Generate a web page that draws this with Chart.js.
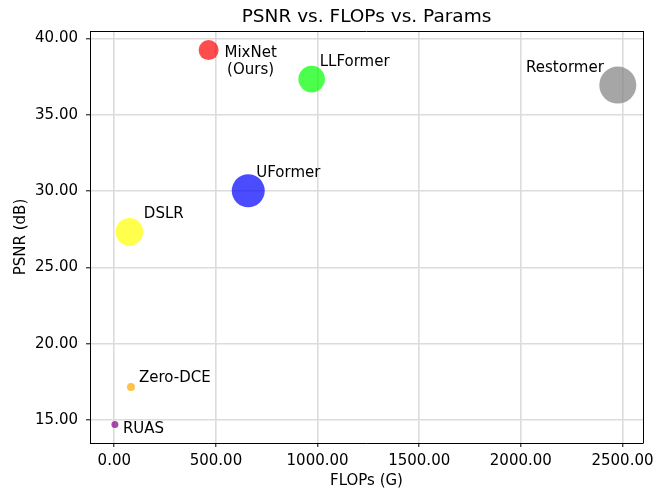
<!DOCTYPE html>
<html>
<head>
<meta charset="utf-8">
<script src="https://cdn.jsdelivr.net/npm/chart.js@4.4.0/dist/chart.umd.min.js"></script>
<style>
  body { margin: 0; background: #fff; }
  #wrap { width: 666px; height: 493px; }
</style>
</head>
<body>
<div id="wrap"><canvas id="bubbleChart" width="666" height="493"></canvas></div>
<script>
// values
const models = ['MixNet\n(Ours)', 'LLFormer', 'Restormer', 'UFormer', 'DSLR', 'Zero-DCE', 'RUAS'];
const flops = [464, 971, 2477, 659, 74, 82, 3];
const psnr = [39.23, 37.33, 36.94, 30.02, 27.33, 17.18, 14.72];
const paramSize = [10, 13.3, 18.5, 16.5, 13.8, 4, 3.5];
const xTicks = [0, 500, 1000, 1500, 2000, 2500];
const yTicks = [15, 20, 25, 30, 35, 40];

const colors = ['rgba(255,0,0,0.7)', 'rgba(0,255,0,0.7)', 'rgba(128,128,128,0.7)',
  'rgba(0,0,255,0.7)', 'rgba(255,255,0,0.7)', 'rgba(255,165,0,0.7)', 'rgba(128,0,128,0.7)'];
// label offset from bubble centre in px: [dx, dy(baseline), align]
const labelOffsets = [[42, 6.5, 'center'], [8, -13.5, 'left'], [-14, -13.5, 'right'],
  [8, -14, 'left'], [14.5, -13.7, 'left'], [8, -5, 'left'], [8, 8, 'left']];

const FONT = 'DejaVu Sans';

const pointLabels = {
  id: 'pointLabels',
  afterDraw(chart) {
    const ctx = chart.ctx;
    const xs = chart.scales.x, ys = chart.scales.y;
    const area = chart.chartArea;
    ctx.save();
    // top and right spines
    ctx.strokeStyle = '#000';
    ctx.lineWidth = 1;
    ctx.beginPath();
    ctx.moveTo(area.left, Math.round(area.top) + 0.5);
    ctx.lineTo(area.right, Math.round(area.top) + 0.5);
    ctx.moveTo(Math.round(area.right) + 0.5, area.top);
    ctx.lineTo(Math.round(area.right) + 0.5, area.bottom);
    ctx.stroke();

    ctx.fillStyle = '#000';
    ctx.font = '15px "' + FONT + '"';
    ctx.textBaseline = 'alphabetic';
    models.forEach((name, i) => {
      const px = xs.getPixelForValue(flops[i]);
      const py = ys.getPixelForValue(psnr[i]);
      const [dx, dy, align] = labelOffsets[i];
      ctx.textAlign = align;
      name.split('\n').forEach((line, k) => {
        ctx.fillText(line, px + dx, py + dy + k * 17);
      });
    });
    ctx.restore();
  }
};

document.addEventListener('DOMContentLoaded', function () {
  const ctx = document.getElementById('bubbleChart').getContext('2d');
  new Chart(ctx, {
    type: 'bubble',
    data: {
      datasets: [{
        data: models.map((m, i) => ({ x: flops[i], y: psnr[i], r: paramSize[i] })),
        backgroundColor: colors,
        borderWidth: 0,
        hoverRadius: 0
      }]
    },
    options: {
      responsive: false,
      animation: false,
      layout: { padding: { left: 0, right: 23, top: 0, bottom: 0 } },
      plugins: {
        legend: { display: false },
        tooltip: { enabled: false },
        title: {
          display: true,
          text: 'PSNR vs. FLOPs vs. Params',
          fullSize: false,
          color: '#000',
          font: { family: FONT, size: 18.5, weight: 'normal' },
          padding: { top: 6, bottom: 2.8 }
        }
      },
      scales: {
        x: {
          type: 'linear',
          min: -119.5,
          max: 2601,
          z: 1,
          afterBuildTicks: axis => { axis.ticks = xTicks.map(v => ({ value: v })); },
          afterFit: axis => { axis.height = 50; },
          grid: {
            color: '#dcdcdc',
            lineWidth: 1.6,
            tickColor: '#000',
            tickLength: 4,
            tickWidth: 1
          },
          border: { color: '#000', width: 1 },
          ticks: {
            autoSkip: false,
            maxRotation: 0,
            padding: 5,
            color: '#000',
            font: { family: FONT, size: 15 },
            callback: v => v.toFixed(2)
          },
          title: {
            display: true,
            text: 'FLOPs (G)',
            color: '#000',
            font: { family: FONT, size: 15 },
            padding: { top: 0, bottom: 3 }
          }
        },
        y: {
          type: 'linear',
          min: 13.51,
          max: 40.48,
          z: 1,
          afterBuildTicks: axis => { axis.ticks = yTicks.map(v => ({ value: v })); },
          afterFit: axis => { axis.width = 90; },
          grid: {
            color: '#dcdcdc',
            lineWidth: 1.6,
            tickColor: '#000',
            tickLength: 4,
            tickWidth: 1
          },
          border: { color: '#000', width: 1 },
          ticks: {
            autoSkip: false,
            padding: 8,
            color: '#000',
            font: { family: FONT, size: 15 },
            callback: v => v.toFixed(2)
          },
          title: {
            display: true,
            text: 'PSNR (dB)',
            color: '#000',
            font: { family: FONT, size: 15 },
            padding: { top: 12, bottom: 0 }
          }
        }
      }
    },
    plugins: [pointLabels]
  });
});
</script>
</body>
</html>
